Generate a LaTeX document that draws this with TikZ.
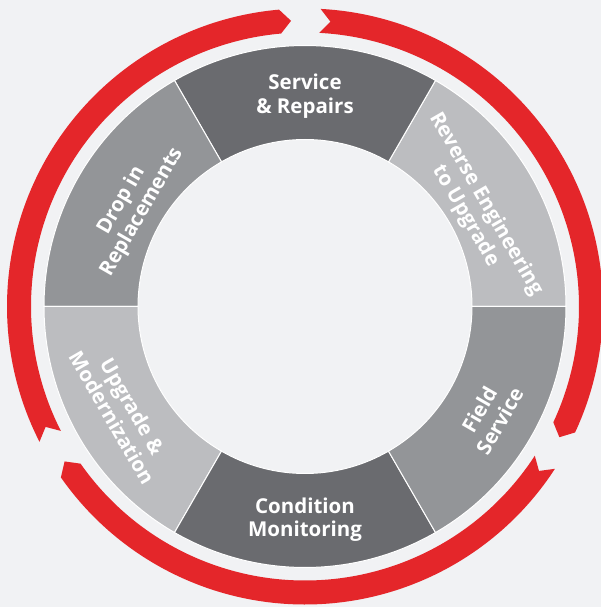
\documentclass[tikz,border=0pt]{standalone}
\usepackage{fontspec}
\setmainfont{Open Sans}
\definecolor{bg}{HTML}{F1F2F4}
\definecolor{segdark}{HTML}{6A6B6F}
\definecolor{segmid}{HTML}{939598}
\definecolor{seglight}{HTML}{BCBDC0}
\definecolor{ribbon}{HTML}{E4262A}
\tikzset{
  lbl/.style={text=white, font=\bfseries\fontsize{20.5}{23.5}\selectfont, align=center, inner sep=0pt},
  segment/.style={draw=white, line width=1pt},
  ribbonarc/.style={fill=ribbon}
}
\begin{document}
\begin{tikzpicture}[x=1pt,y=1pt]
\useasboundingbox[fill=bg] (-305,-300.5) rectangle (296,306.5);
% ring segments
\foreach \a/\c in {0/seglight,60/segdark,120/segmid,180/seglight,240/segdark,300/segmid}{
  \filldraw[segment, fill=\c] (\a:167) -- (\a:261)
    arc[start angle=\a, end angle={\a+60}, radius=261]
    -- ({\a+60}:167)
    arc[start angle={\a+60}, end angle=\a, radius=167] -- cycle;
}
% red ribbons (clockwise flow)
\foreach \o in {0,120,240}{
  \pgfmathsetmacro{\T}{87+\o}
  \pgfmathsetmacro{\H}{-25+\o}
  \pgfmathsetmacro{\Tn}{\T-2.1}
  \pgfmathsetmacro{\Ht}{\H-2.2}
  \fill[ribbonarc] (\T:298) arc[start angle=\T, end angle=\H, radius=298]
    -- (\Ht:286) -- (\H:274)
    arc[start angle=\H, end angle=\T, radius=274]
    -- (\Tn:286) -- cycle;
}
% labels
\node[lbl] (sr) at (90:210.5) {Service\\\& Repairs};
\node[lbl, rotate=-60] (re) at (29.5:196) {Reverse Engineering\\to Upgrade};
\node[lbl, rotate=60] (fs) at (-30.5:214) {Field\\Service};
\node[lbl] (cm) at (-90:213) {Condition\\Monitoring};
\node[lbl, rotate=-60] (um) at (210:211) {Upgrade \&\\Modernization};
\node[lbl, rotate=60] (dr) at (150:200) {Drop in\\Replacements};
\end{tikzpicture}
\end{document}
